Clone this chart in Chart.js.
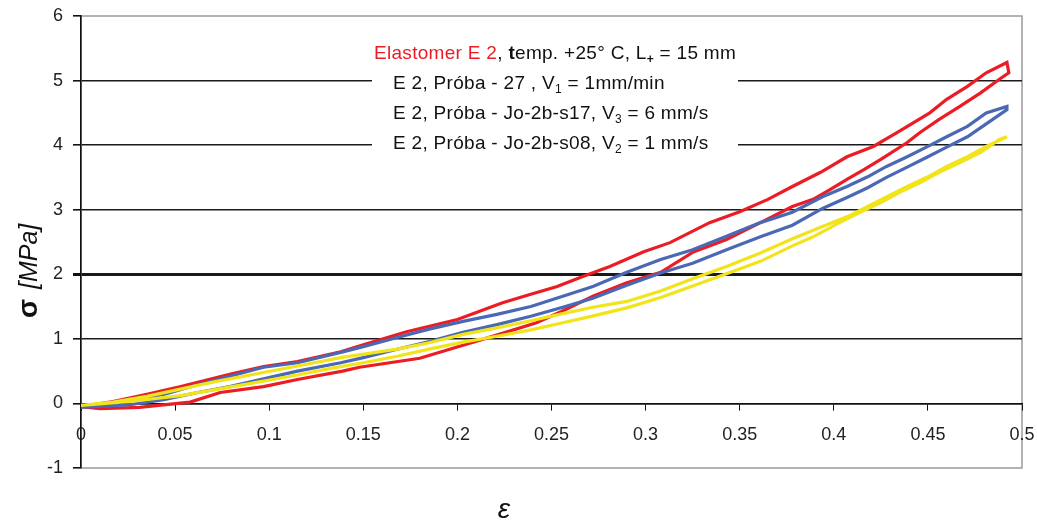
<!DOCTYPE html>
<html>
<head>
<meta charset="utf-8">
<script src="https://cdn.jsdelivr.net/npm/chart.js@4.4.0/dist/chart.umd.min.js"></script>
<style>
  html, body { margin: 0; padding: 0; background: #fff; }
  #wrap { width: 1037px; height: 520px; }
</style>
</head>
<body>
<div id="wrap"><canvas id="loopChart" width="1037" height="520"></canvas></div>
<script>
// tick labels
const xTickLabels = ['0', '0.05', '0.1', '0.15', '0.2', '0.25', '0.3', '0.35', '0.4', '0.45', '0.5'];
const yTickLabels = ['-1', '0', '1', '2', '3', '4', '5', '6'];

// red loop (loading then unloading), strain / stress [MPa]
const redStrain = [0, 0.017, 0.035, 0.053, 0.079, 0.097, 0.115, 0.138, 0.150, 0.173, 0.200, 0.224, 0.239, 0.253, 0.267, 0.281, 0.299, 0.313, 0.334, 0.350, 0.365, 0.378, 0.393, 0.407, 0.421, 0.434, 0.451, 0.460, 0.471, 0.481, 0.492,
    0.493, 0.488, 0.478, 0.467, 0.456, 0.446, 0.439, 0.425, 0.416, 0.407, 0.398, 0.389, 0.378, 0.361, 0.343, 0.325, 0.308, 0.290, 0.272, 0.255, 0.242, 0.220, 0.203, 0.180, 0.148, 0.139, 0.115, 0.097, 0.074, 0.058, 0.031, 0.010, 0];
const redStress = [-0.05, 0.03, 0.14, 0.26, 0.45, 0.57, 0.65, 0.80, 0.91, 1.11, 1.30, 1.56, 1.69, 1.81, 1.97, 2.12, 2.35, 2.49, 2.80, 2.97, 3.16, 3.36, 3.58, 3.82, 3.98, 4.20, 4.50, 4.71, 4.91, 5.12, 5.28,
    5.12, 5.02, 4.81, 4.60, 4.40, 4.20, 4.04, 3.78, 3.62, 3.47, 3.31, 3.16, 3.05, 2.80, 2.54, 2.34, 2.03, 1.87, 1.66, 1.42, 1.25, 1.05, 0.90, 0.70, 0.56, 0.50, 0.37, 0.26, 0.17, 0.02, -0.06, -0.08, -0.05];

// blue loop
const blueStrain = [0, 0.009, 0.026, 0.044, 0.062, 0.079, 0.097, 0.115, 0.138, 0.150, 0.168, 0.185, 0.203, 0.221, 0.239, 0.256, 0.272, 0.290, 0.308, 0.325, 0.343, 0.361, 0.378, 0.394, 0.407, 0.418, 0.428, 0.439, 0.450, 0.460, 0.471, 0.481, 0.492,
    0.492, 0.481, 0.471, 0.460, 0.450, 0.439, 0.428, 0.418, 0.407, 0.394, 0.378, 0.361, 0.343, 0.325, 0.308, 0.290, 0.272, 0.256, 0.239, 0.221, 0.203, 0.185, 0.168, 0.150, 0.138, 0.115, 0.097, 0.079, 0.062, 0.044, 0.026, 0];
const blueStress = [-0.05, -0.02, 0.06, 0.14, 0.29, 0.42, 0.56, 0.63, 0.79, 0.88, 1.02, 1.15, 1.27, 1.38, 1.50, 1.66, 1.81, 2.03, 2.23, 2.38, 2.59, 2.80, 2.96, 3.20, 3.36, 3.51, 3.67, 3.82, 3.98, 4.13, 4.29, 4.50, 4.60,
    4.55, 4.33, 4.13, 3.97, 3.82, 3.66, 3.50, 3.34, 3.19, 3.02, 2.76, 2.58, 2.38, 2.17, 2.02, 1.83, 1.63, 1.49, 1.35, 1.22, 1.10, 0.96, 0.84, 0.71, 0.63, 0.50, 0.38, 0.26, 0.17, 0.06, -0.02, -0.06];

// yellow loop
const yellowStrain = [0, 0.017, 0.035, 0.070, 0.106, 0.138, 0.168, 0.185, 0.203, 0.221, 0.239, 0.256, 0.272, 0.290, 0.308, 0.325, 0.343, 0.361, 0.378, 0.394, 0.407, 0.418, 0.428, 0.439, 0.450, 0.460, 0.471, 0.481, 0.492,
    0.488, 0.478, 0.467, 0.456, 0.446, 0.435, 0.425, 0.414, 0.403, 0.389, 0.378, 0.361, 0.343, 0.325, 0.308, 0.290, 0.270, 0.256, 0.239, 0.221, 0.203, 0.185, 0.168, 0.150, 0.132, 0.115, 0.088, 0.053, 0.026, 0];
const yellowStress = [-0.03, 0.02, 0.11, 0.33, 0.53, 0.71, 0.84, 0.94, 1.07, 1.17, 1.28, 1.39, 1.49, 1.58, 1.74, 1.93, 2.12, 2.33, 2.55, 2.74, 2.89, 3.05, 3.20, 3.36, 3.51, 3.67, 3.82, 3.98, 4.13,
    4.09, 3.89, 3.73, 3.58, 3.42, 3.27, 3.11, 2.96, 2.80, 2.58, 2.44, 2.20, 2.01, 1.82, 1.64, 1.48, 1.34, 1.25, 1.14, 1.04, 0.95, 0.84, 0.73, 0.63, 0.54, 0.44, 0.30, 0.12, 0.03, -0.03];

const seriesNames = ['E 2, Próba - Jo-2b-s17, V3 = 6 mm/s', 'E 2, Próba - 27, V1 = 1mm/min', 'E 2, Próba - Jo-2b-s08, V2 = 1 mm/s'];

const FONT = '"Liberation Sans", Arial, sans-serif';
const RED = '#ec1c24';
const BLUE = '#4b68b5';
const YELLOW = '#f2e41a';

function toPoints(xs, ys) {
    return xs.map(function (x, i) { return { x: x, y: ys[i] }; });
}

// text block in the upper middle of the plot
const legendTitle = [
    { text: 'Elastomer E 2', color: RED },
    { text: ', ' },
    { text: 't', bold: true },
    { text: 'emp. +25° C, L' },
    { text: '+', sub: true, bold: true },
    { text: ' = 15 mm' }
];
const legendLines = [
    [{ text: 'E 2, Próba - 27 , V' }, { text: '1', sub: true }, { text: ' = 1mm/min' }],
    [{ text: 'E 2, Próba - Jo-2b-s17, V' }, { text: '3', sub: true }, { text: ' = 6 mm/s' }],
    [{ text: 'E 2, Próba - Jo-2b-s08, V' }, { text: '2', sub: true }, { text: ' = 1 mm/s' }]
];

function drawRuns(ctx, runs, x, y, size) {
    runs.forEach(function (r) {
        const s = r.sub ? Math.round(size * 0.62) : size;
        ctx.font = (r.bold ? 'bold ' : '') + s + 'px ' + FONT;
        ctx.fillStyle = r.color || '#111';
        ctx.fillText(r.text, x, r.sub ? y + 4 : y);
        x += ctx.measureText(r.text).width;
    });
}

const framePlugin = {
    id: 'frame',
    beforeDraw(chart) {
        const a = chart.chartArea;
        const ctx = chart.ctx;
        ctx.save();
        ctx.strokeStyle = '#9a9a9a';
        ctx.lineWidth = 1.5;
        ctx.strokeRect(a.left, a.top, a.right - a.left, a.bottom - a.top);
        ctx.restore();
    }
};

const textPlugin = {
    id: 'textBlock',
    beforeDatasetsDraw(chart) {
        const ctx = chart.ctx;
        ctx.save();
        ctx.fillStyle = '#fff';
        ctx.fillRect(372, 36, 366, 126);
        ctx.textBaseline = 'alphabetic';
        ctx.textAlign = 'left';
        ctx.letterSpacing = '0.3px';
        drawRuns(ctx, legendTitle, 374, 59, 19);
        legendLines.forEach(function (line, i) {
            drawRuns(ctx, line, 393, 89 + i * 30, 19);
        });
        ctx.restore();
    },
    afterDraw(chart) {
        const ctx = chart.ctx;
        ctx.save();
        // y axis title
        ctx.translate(37, 318);
        ctx.rotate(-Math.PI / 2);
        ctx.textBaseline = 'alphabetic';
        ctx.textAlign = 'left';
        ctx.fillStyle = '#111';
        ctx.font = 'bold 28px ' + FONT;
        ctx.fillText('σ', 0, 0);
        const w = ctx.measureText('σ ').width;
        ctx.font = 'italic 25px ' + FONT;
        ctx.fillText('[MPa]', w + 2, 0);
        ctx.restore();
        // x axis title
        ctx.save();
        ctx.font = 'italic 28px ' + FONT;
        ctx.fillStyle = '#111';
        ctx.textAlign = 'center';
        ctx.textBaseline = 'alphabetic';
        ctx.fillText('ε', 504, 518);
        ctx.restore();
    }
};

const ctx = document.getElementById('loopChart').getContext('2d');
const chart = new Chart(ctx, {
    type: 'scatter',
    data: {
        datasets: [
            { label: seriesNames[0], data: toPoints(redStrain, redStress), borderColor: RED },
            { label: seriesNames[1], data: toPoints(blueStrain, blueStress), borderColor: BLUE },
            { label: seriesNames[2], data: toPoints(yellowStrain, yellowStress), borderColor: YELLOW }
        ].reverse().map(function (d) {
            return Object.assign(d, { showLine: true, pointRadius: 0, borderWidth: 3.2, tension: 0, fill: false });
        })
    },
    options: {
        responsive: false,
        animation: false,
        layout: { padding: { left: 0, right: 15, top: 16, bottom: 52 } },
        plugins: {
            legend: { display: false },
            tooltip: { enabled: false }
        },
        scales: {
            x: {
                type: 'linear',
                min: 0,
                max: 0.5,
                position: { y: 0 },
                border: { color: '#111', width: 1.6 },
                grid: { drawOnChartArea: false, drawTicks: true, tickLength: 6, color: '#111' },
                ticks: {
                    stepSize: 0.05,
                    padding: 15,
                    color: '#222',
                    font: { size: 18, family: FONT },
                    maxRotation: 0,
                    autoSkip: false,
                    callback: function (v, i) { return xTickLabels[i]; }
                },
                afterFit: function (scale) { scale.paddingLeft = 0; scale.paddingRight = 0; }
            },
            y: {
                type: 'linear',
                min: -1,
                max: 6,
                border: { color: '#111', width: 1.6 },
                grid: {
                    tickLength: 8,
                    tickColor: '#111',
                    color: function (c) {
                        const v = c.tick.value;
                        return (v === -1 || v === 6) ? 'rgba(0,0,0,0)' : '#1a1a1a';
                    },
                    lineWidth: function (c) { return c.tick.value === 2 ? 3 : 1.6; }
                },
                ticks: {
                    stepSize: 1,
                    padding: 10,
                    color: '#222',
                    font: { size: 18, family: FONT },
                    callback: function (v, i) { return yTickLabels[i]; }
                },
                afterFit: function (scale) { scale.width = 81; scale.paddingTop = 0; scale.paddingBottom = 0; }
            }
        }
    },
    plugins: [framePlugin, textPlugin]
});
</script>
</body>
</html>
